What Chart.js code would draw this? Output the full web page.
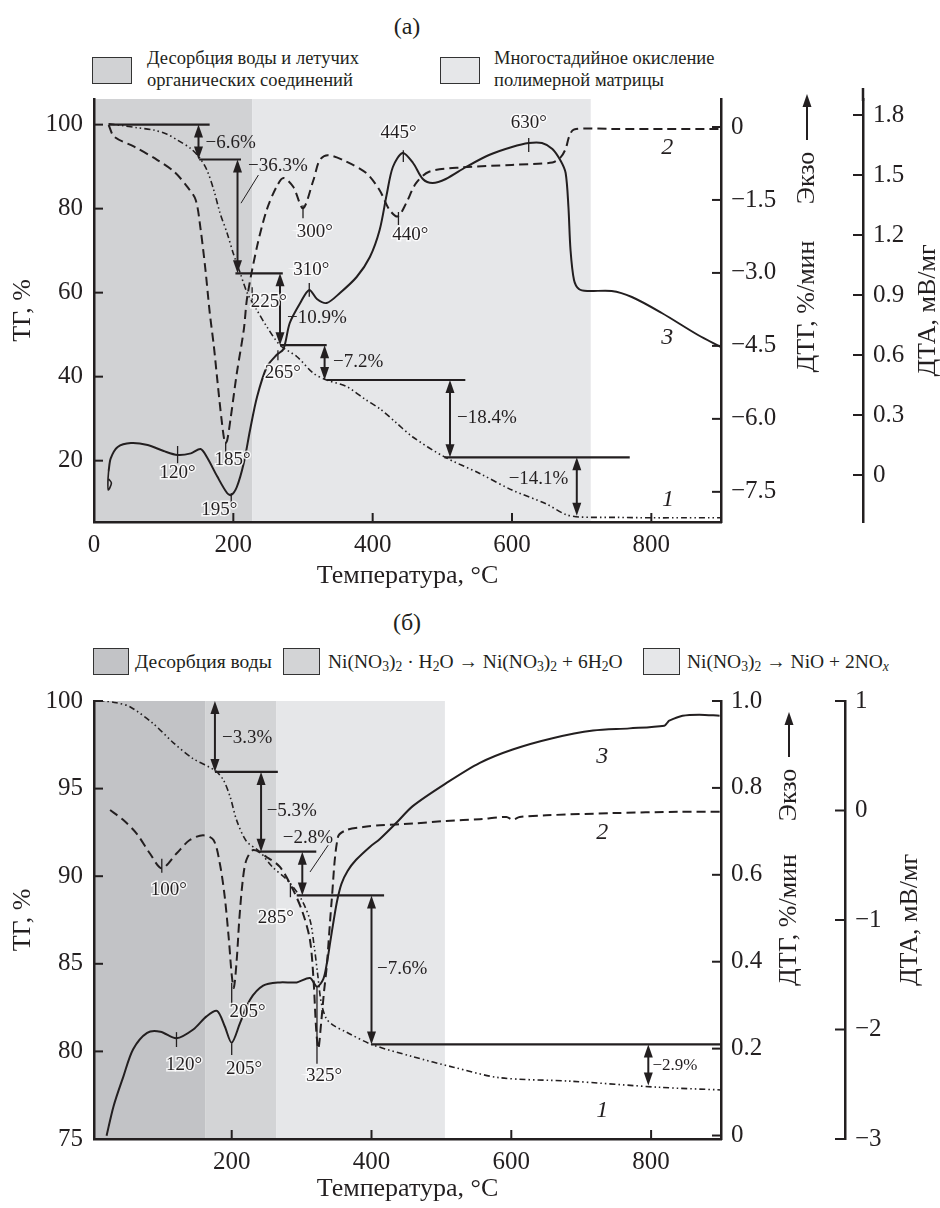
<!DOCTYPE html>
<html><head><meta charset="utf-8">
<script src="https://cdn.jsdelivr.net/npm/chart.js@4.4.1/dist/chart.umd.min.js"></script>
<style>
body{margin:0;background:#fff;width:940px;height:1208px;position:relative;overflow:hidden;font-family:"Liberation Serif","Times New Roman",serif;color:#231f20}
canvas{position:absolute;left:0}
.t{position:absolute;font-size:24px;transform:translate(-50%,-50%);white-space:nowrap}
.box{position:absolute;border:1.5px solid #333;box-sizing:border-box}
.lt{position:absolute;font-size:18.5px;line-height:22px;white-space:nowrap}
.lb{position:absolute;font-size:19.5px;line-height:22px;white-space:nowrap}
sub{font-size:70%;line-height:0;vertical-align:-0.25em}
</style></head><body>
<div class="t" style="left:407px;top:26px">(а)</div>
<div class="box" style="left:92px;top:57px;width:40px;height:27px;background:#d1d2d4"></div>
<div class="lt" style="left:147px;top:47px">Десорбция воды и летучих<br>органических соединений</div>
<div class="box" style="left:440px;top:57px;width:40px;height:27px;background:#e6e7e9"></div>
<div class="lt" style="left:494px;top:47px">Многостадийное окисление<br>полимерной матрицы</div>

<div class="t" style="left:407px;top:622px">(б)</div>
<div class="box" style="left:93px;top:648px;width:36px;height:27px;background:#c2c3c6"></div>
<div class="lb" style="left:135px;top:651px">Десорбция воды</div>
<div class="box" style="left:283px;top:648px;width:37px;height:27px;background:#d3d4d6"></div>
<div class="lb" style="left:328px;top:651px">Ni(NO<sub>3</sub>)<sub>2</sub> · H<sub>2</sub>O → Ni(NO<sub>3</sub>)<sub>2</sub> + 6H<sub>2</sub>O</div>
<div class="box" style="left:643px;top:648px;width:37px;height:27px;background:#e6e7e9"></div>
<div class="lb" style="left:687px;top:651px">Ni(NO<sub>3</sub>)<sub>2</sub> → NiO + 2NO<sub><i>x</i></sub></div>

<canvas id="ca" width="940" height="605" style="top:0"></canvas>
<canvas id="cb" width="940" height="603" style="top:605px"></canvas>
<script>
// ================= DATA: chart (а) =================
const xTicksA   = [0, 200, 400, 600, 800];
const tgTicksA  = [20, 40, 60, 80, 100];
const dtgTicksA = [0, -1.5, -3.0, -4.5, -6.0, -7.5];
const dtaTicksA = [0, 0.3, 0.6, 0.9, 1.2, 1.5, 1.8];

const tgA_T = [21,40,60,86,105,120,139,152,162,172,181,191,200,210,220,234,248,267,291,315,334,362,391,410,434,457,503,553,600,648,677,696,750,800,850,900];
const tgA   = [100.2,99.8,99.3,98.7,97.7,96.3,94.3,92,89.2,84.4,78.9,74.2,69.3,64.6,59.9,55.8,51.9,47.5,44.8,40.8,39.2,37.7,34.4,32.4,29,25.7,20.9,17,13,9.8,7.2,6.6,6.5,6.4,6.4,6.4];

const dtgA_T = [21,29,57,91,115,134,146,153,160,166,172,177,183,188,191,196,205,215,220,234,248,262,272,286,300,315,324,336,362,391,410,424,436,448,462,481,529,600,658,670,677,682,689,743,820,900];
const dtgA   = [0.04,-0.2,-0.4,-0.68,-0.92,-1.23,-1.5,-2.1,-2.94,-3.8,-4.5,-5.2,-6.0,-6.5,-6.45,-6.0,-5.06,-4.17,-3.49,-2.46,-1.7,-1.23,-1.05,-1.23,-1.67,-1.09,-0.68,-0.58,-0.71,-0.95,-1.3,-1.7,-1.84,-1.57,-1.16,-0.92,-0.83,-0.78,-0.73,-0.62,-0.45,-0.2,-0.05,-0.04,-0.04,-0.04];

const dtaHookA_T = [21,20,20.5,25,21];
const dtaHookA   = [0.02,-0.03,-0.075,-0.04,-0.02];
const dtaA_T = [21,24,34,53,77,100,120,139,153,162,177,191,197,205,215,224,234,248,262,272,281,296,309,320,334,353,377,396,410,420,429,443,458,472,486,505,534,567,600,624,643,658,670,677,681,684,689,696,708,743,772,815,867,900];
const dtaA   = [0.02,0.083,0.14,0.16,0.15,0.12,0.10,0.108,0.13,0.09,-0.008,-0.09,-0.10,-0.06,0.06,0.225,0.39,0.54,0.6,0.63,0.76,0.86,0.925,0.88,0.86,0.91,0.99,1.09,1.225,1.4,1.54,1.61,1.56,1.48,1.46,1.48,1.54,1.6,1.64,1.66,1.66,1.63,1.57,1.51,1.34,1.125,0.975,0.93,0.92,0.92,0.89,0.81,0.70,0.64];

const stageBoundsA = [[0,227],[227,713]];          // °C
const stepLevelsA  = [100, 91.7, 64.6, 47.5, 39.2, 20.8, 6.9]; // TG, %
const stepLossA    = ['−6.6%','−36.3%','−10.9%','−7.2%','−18.4%','−14.1%'];
const peaksA       = ['445°','630°','300°','440°','310°','225°','265°','185°','120°','195°'];

// ================= DATA: chart (б) =================
const xTicksB   = [200, 400, 600, 800];
const tgTicksB  = [75, 80, 85, 90, 95, 100];
const dtgTicksB = [0, 0.2, 0.4, 0.6, 0.8, 1.0];
const dtaTicksB = [-3, -2, -1, 0, 1];

const tgB_T = [3,17,35,55,88,117,145,176,188,198,207,221,240,259,279,298,312,318,323,328,335,345,364,400,459,517,583,685,812,900];
const tgB   = [100,100,99.9,99.66,98.7,97.6,96.7,96.04,95.5,94.5,93.2,92,91.4,90.5,89.8,88.8,87.5,86,84.4,82.8,81.9,81.5,81.1,80.4,79.7,79.1,78.5,78.3,77.95,77.8];

const dtgB_T = [26,45,64,83,100,121,140,159,174,183,190,196,200,203,207,211,216,221,231,250,269,288,302,312,317,321,324,328,332,336,343,352,364,388,412,459,507,555,593,602,612,650,745,840,900];
const dtgB   = [0.749,0.726,0.695,0.649,0.615,0.649,0.68,0.691,0.68,0.626,0.55,0.45,0.37,0.34,0.40,0.50,0.59,0.634,0.657,0.641,0.618,0.565,0.511,0.45,0.36,0.24,0.2,0.26,0.33,0.39,0.54,0.687,0.703,0.71,0.714,0.718,0.724,0.728,0.733,0.727,0.733,0.737,0.742,0.745,0.745];

const dtaB_T = [21,31,45,59,79,98,121,145,164,179,190,200,212,226,245,269,293,312,322,331,336,341,346,351,357,366,378,398,412,436,459,507,555,602,659,717,769,819,823,826,845,869,898];
const dtaB   = [-2.97,-2.7,-2.43,-2.18,-2.03,-2.02,-2.08,-2.0,-1.88,-1.83,-1.97,-2.12,-1.94,-1.73,-1.6,-1.57,-1.57,-1.53,-1.61,-1.54,-1.4,-1.2,-1.0,-0.82,-0.67,-0.55,-0.45,-0.33,-0.26,-0.11,0.04,0.25,0.435,0.557,0.66,0.73,0.75,0.775,0.80,0.82,0.865,0.875,0.865];

const stageBoundsB = [[0,162],[162,264],[264,505]];
const stepLevelsB  = [100, 95.95, 91.4, 88.9, 80.4, 78.06];
const stepLossB    = ['−3.3%','−5.3%','−2.8%','−7.6%','−2.9%'];
const peaksB       = ['100°','285°','205°','120°','205°','325°'];

// ================= drawing =================
const FONT = "'Liberation Serif','Times New Roman',serif";
const INK = '#231f20';
function fmt(v, dec){ if (Math.abs(v) < 1e-9) return '0'; return v.toFixed(dec).replace('-', '−'); }
const pts = (T, V) => T.map((t, i) => ({x: t, y: V[i]}));

function decor(A){
  return {
    id: 'decor',
    beforeDraw(chart){
      const {ctx, chartArea: ca, scales} = chart;
      ctx.save();
      A.bounds.forEach((r, i) => {
        const x0 = Math.max(ca.left, scales.x.getPixelForValue(r[0]));
        const x1 = Math.min(ca.right, scales.x.getPixelForValue(r[1]));
        ctx.fillStyle = A.colors[i];
        ctx.fillRect(x0, ca.top, x1 - x0, ca.bottom - ca.top);
      });
      ctx.restore();
    },
    afterDatasetsDraw(chart){
      const {ctx, scales} = chart;
      const X = v => scales.x.getPixelForValue(v), Y = v => scales.yTG.getPixelForValue(v);
      const seg = (a,b,c,d) => { ctx.beginPath(); ctx.moveTo(a,b); ctx.lineTo(c,d); ctx.stroke(); };
      const head = (x, y, dir) => { ctx.beginPath(); ctx.moveTo(x, y); ctx.lineTo(x-4.5, y+dir*13); ctx.lineTo(x+4.5, y+dir*13); ctx.closePath(); ctx.fill(); };
      ctx.save();
      ctx.strokeStyle = INK; ctx.fillStyle = INK; ctx.setLineDash([]);
      ctx.lineWidth = 2.2;
      A.lines.forEach(([i, t0, t1]) => seg(X(t0), Y(A.levels[i]), X(t1), Y(A.levels[i])));
      A.arrows.forEach(([i, t]) => {
        const x = X(t), y1 = Y(A.levels[i]), y2 = Y(A.levels[i+1]);
        ctx.lineWidth = 2; seg(x, y1 + 6, x, y2 - 6);
        head(x, y1, 1); head(x, y2, -1);
      });
      ctx.lineWidth = 1;
      A.leaders.forEach(([a,b,c,d]) => seg(X(a), Y(b), X(c), Y(d)));
      ctx.lineWidth = 1.3;
      A.marks.forEach(([t, a, b]) => seg(X(t), Y(a), X(t), Y(b)));
      ctx.textBaseline = 'middle';
      A.lossPos.forEach(([t, v, al, fs], i) => {
        ctx.font = (fs || 19) + 'px ' + FONT; ctx.textAlign = al; ctx.fillText(A.loss[i], X(t), Y(v));
      });
      ctx.font = '19px ' + FONT; ctx.textAlign = 'center';
      A.peakPos.forEach(([t, v], i) => {
        ctx.save(); ctx.lineWidth = 3; ctx.strokeStyle = 'rgba(255,255,255,0.8)';
        ctx.strokeText(A.peaks[i], X(t), Y(v)); ctx.restore();
        ctx.fillText(A.peaks[i], X(t), Y(v));
      });
      ctx.font = 'italic 24px ' + FONT;
      A.nums.forEach(([s, t, v]) => ctx.fillText(s, X(t), Y(v)));
      ctx.restore();
    },
    afterDraw(chart){
      const {ctx, chartArea: ca, scales} = chart;
      const seg = (a,b,c,d) => { ctx.beginPath(); ctx.moveTo(a,b); ctx.lineTo(c,d); ctx.stroke(); };
      ctx.save();
      ctx.strokeStyle = INK; ctx.fillStyle = INK; ctx.lineWidth = 2;
      scales.x.ticks.forEach(t => { const p = scales.x.getPixelForValue(t.value); if (p > ca.left + 2) seg(p, ca.bottom, p, ca.bottom - 9); });
      scales.yTG.ticks.forEach(t => { const p = scales.yTG.getPixelForValue(t.value); seg(ca.left, p, ca.left + 9, p); });
      scales.yDTG.ticks.forEach(t => { const p = scales.yDTG.getPixelForValue(t.value); seg(ca.right, p, ca.right - 9, p); });
      const dx = scales.yDTA.left;
      scales.yDTA.ticks.forEach(t => { const p = scales.yDTA.getPixelForValue(t.value); seg(dx, p, dx - 10, p); });
      if (A.dtaTopExt) { ctx.lineWidth = 2.5; seg(dx, ca.top - A.dtaTopExt, dx, ca.top + 2); }
      // right-side titles
      const mid = (ca.top + ca.bottom) / 2;
      const rot = (s, x, y) => { ctx.save(); ctx.translate(x, y); ctx.rotate(-Math.PI/2); ctx.textAlign = 'center'; ctx.textBaseline = 'middle'; ctx.fillText(s, 0, 0); ctx.restore(); };
      ctx.font = '26px ' + FONT;
      const gx = dx - 56;
      rot('ДТГ, %/мин', gx, mid + A.dtgDy);
      rot('Экзо', gx, ca.top + A.exoDy);
      rot('ДТА, мВ/мг', dx + 65, mid);
      ctx.lineWidth = 2;
      seg(gx, ca.top + A.arrowBot, gx, ca.top + A.arrowTop + 10);
      ctx.beginPath(); ctx.moveTo(gx, ca.top + A.arrowTop); ctx.lineTo(gx - 4.5, ca.top + A.arrowTop + 13); ctx.lineTo(gx + 4.5, ca.top + A.arrowTop + 13); ctx.closePath(); ctx.fill();
      ctx.restore();
    }
  };
}

function build(id, P){
  const tickFont = {family: FONT, size: 25};
  const ds = (T, V, axis, dash, w) => ({data: pts(T, V), yAxisID: axis, borderColor: INK, borderWidth: w, borderDash: dash, pointRadius: 0, tension: 0.3, fill: false});
  const border = {display: true, width: 2.5, color: INK};
  const noGrid = {display: false, drawTicks: false};
  const setTicks = arr => s => { s.ticks = arr.map(v => ({value: v})); };
  return new Chart(document.getElementById(id), {
    type: 'line',
    data: {datasets: P.datasets.map(d => ds(...d))},
    options: {
      responsive: false, animation: false, devicePixelRatio: 1,
      layout: {padding: {top: P.padTop, left: 0, right: 0, bottom: 0}},
      plugins: {legend: {display: false}, tooltip: {enabled: false}},
      scales: {
        x: {type: 'linear', position: 'bottom', min: P.xMin, max: 900,
            afterBuildTicks: setTicks(P.xTicks), grid: noGrid, border,
            ticks: {font: tickFont, color: INK, padding: 8, maxRotation: 0, autoSkip: false, includeBounds: false, callback: v => String(v)},
            title: {display: true, text: 'Температура, °C', font: {family: FONT, size: 26}, color: INK, padding: {top: 0, bottom: P.xTitlePad}},
            afterFit: s => { s.height = P.xH; }},
        yTG: {type: 'linear', position: 'left', min: P.tg[0], max: P.tg[1],
            afterBuildTicks: setTicks(P.tgTicks), grid: noGrid, border,
            ticks: {font: tickFont, color: INK, padding: 11, callback: v => String(v)},
            title: {display: true, text: 'ТГ, %', font: {family: FONT, size: 26}, color: INK, padding: {top: 8, bottom: 0}},
            afterFit: s => { s.width = 94; }},
        yDTG: {type: 'linear', position: 'right', weight: 0, min: P.dtg[0], max: P.dtg[1],
            afterBuildTicks: setTicks(P.dtgTicks), grid: noGrid, border,
            ticks: {font: tickFont, color: INK, padding: 10, callback: v => fmt(v, P.dtgDec)},
            afterFit: s => { s.width = P.dtgW; }},
        yDTA: {type: 'linear', position: 'right', weight: 1, min: P.dta[0], max: P.dta[1],
            afterBuildTicks: setTicks(P.dtaTicks), grid: noGrid, border,
            ticks: {font: tickFont, color: INK, padding: 10, callback: v => fmt(v, P.dtaDec)},
            afterFit: s => { s.width = 940 - 721 - P.dtgW; }}
      }
    },
    plugins: [decor(P.annot)]
  });
}

const TGDASH = [6, 3, 1.5, 3, 1.5, 3], DTGDASH = [9, 5];

build('ca', {
  padTop: 99, xH: 83, xTitlePad: 13, xMin: 0, xTicks: xTicksA,
  tg: [5.4, 106.1], dtg: [-8.12, 0.575], dta: [-0.235, 1.88],
  tgTicks: tgTicksA, dtgTicks: dtgTicksA, dtaTicks: dtaTicksA, dtgDec: 1, dtaDec: 1, dtgW: 142,
  datasets: [
    [tgA_T, tgA, 'yTG', TGDASH, 1.6],
    [dtgA_T, dtgA, 'yDTG', DTGDASH, 2],
    [dtaA_T, dtaA, 'yDTA', [], 2],
    [dtaHookA_T, dtaHookA, 'yDTA', [], 1.6]
  ],
  annot: {
    bounds: stageBoundsA, colors: ['#d1d2d4', '#e6e7e9'],
    levels: stepLevelsA, loss: stepLossA, peaks: peaksA,
    lines: [[0,21,166],[1,151,211],[2,203,271],[3,267,334],[4,334,533],[5,503,769]],
    arrows: [[0,150],[1,206],[2,267],[3,331],[4,511],[5,693]],
    leaders: [[236,88,211,81.3]],
    lossPos: [[160,95.6,'left'],[221,90.1,'left'],[277,53.9,'left'],[343,43.4,'left'],[521,30.1,'left'],[681,15.6,'right']],
    peakPos: [[437,98],[624,100.4],[317,74.4],[454,73.7],[312,65.4],[251,57.7],[271,40.8],[199,20.1],[120,17],[180,8.2]],
    marks: [[444,93.9,91.1],[624,96.8,93.5],[300,80.8,77.7],[437,79.2,76.1],[309,62.3,59],[227,61.3,58.2],[264,46.3,43.9],[189,24.2,20.6],[120,23.5,19.4],[197,12.3,9.4]],
    nums: [['1',824,10.6],['2',823,94.6],['3',823,49.2]],
    dtaTopExt: 11, dtgDy: -4, exoDy: 79, arrowTop: -5, arrowBot: 41
  }
});

build('cb', {
  padTop: 96, xH: 69, xTitlePad: 3, xMin: 3, xTicks: xTicksB,
  tg: [75, 100], dtg: [-0.008, 1.0], dta: [-3, 1],
  tgTicks: tgTicksB, dtgTicks: dtgTicksB, dtaTicks: dtaTicksB, dtgDec: 1, dtaDec: 0, dtgW: 124,
  datasets: [
    [tgB_T, tgB, 'yTG', TGDASH, 1.6],
    [dtgB_T, dtgB, 'yDTG', DTGDASH, 2],
    [dtaB_T, dtaB, 'yDTA', [], 2]
  ],
  annot: {
    bounds: stageBoundsB, colors: ['#c2c3c6', '#d3d4d6', '#e6e7e9'],
    levels: stepLevelsB, loss: stepLossB, peaks: peaksB,
    lines: [[1,176,266],[2,240,321],[3,293,418],[4,400,900]],
    arrows: [[0,176],[1,242],[2,301],[3,400],[4,796]],
    leaders: [[338,91.77,312,90.24]],
    lossPos: [[186,97.9,'left'],[250,93.7,'left'],[273,92.2,'left'],[408,84.7,'left'],[802,79.2,'left',17]],
    peakPos: [[110,89.2],[263,87.6],[222.6,82.25],[132,79.2],[217.6,79.0],[332,78.6]],
    marks: [[100,91.0,90.2],[284,89.6,88.8],[200,83.9,82.7],[121,81.1,80.25],[200,80.46,79.8],[322,83.66,79.3]],
    nums: [['3',730,96.8],['2',730,92.5],['1',730,76.6]],
    dtaTopExt: 0, dtgDy: 0, exoDy: 94, arrowTop: 11, arrowBot: 56
  }
});
</script>
</body></html>
